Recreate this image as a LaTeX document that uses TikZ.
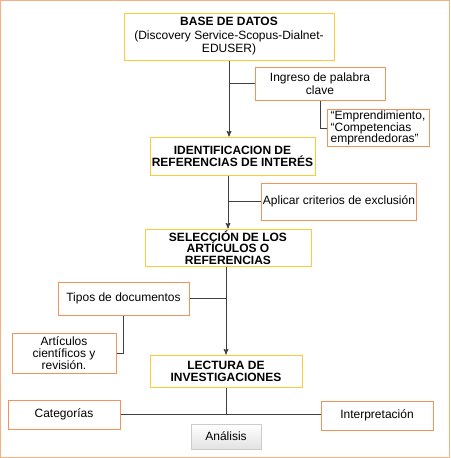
\documentclass[tikz,border=0pt]{standalone}
\usepackage{fontspec}
\setmainfont{Liberation Sans}
\usetikzlibrary{arrows,shadows}

\definecolor{boxyellow}{HTML}{FFC93C}
\definecolor{boxorange}{HTML}{F2935C}
\definecolor{frameorange}{HTML}{F4B183}
\definecolor{linegray}{HTML}{404040}

\begin{document}
\begin{tikzpicture}[>=stealth',thick,
  main box/.style={rectangle,draw=boxyellow,line width=1pt,align=center,inner sep=1pt,font=\fontsize{12}{12}\selectfont\bfseries},
  side box/.style={rectangle,draw=boxorange,line width=1pt,align=center,inner sep=1pt,font=\fontsize{12}{13}\selectfont},
  link/.style={draw=linegray,line width=1pt}]

 \useasboundingbox (0,0) rectangle (450pt,-458pt);
 \draw[frameorange,line width=1.2pt] (0.6pt,-0.6pt) rectangle (449.4pt,-457.4pt);

 \node[main box,minimum width=210pt,minimum height=47pt,font=\fontsize{12}{13.5}\selectfont] (base) at (229pt,-36.5pt)
   {\textbf{BASE DE DATOS}\\(Discovery Service-Scopus-Dialnet-\\EDUSER)};
 \node[main box,minimum width=165pt,minimum height=38pt] (ident) [below of=base,node distance=119.5pt,xshift=3.5pt]
   {IDENTIFICACION DE\\REFERENCIAS DE INTERÉS};
 \node[main box,minimum width=166pt,minimum height=37pt,font=\fontsize{12}{11.5}\selectfont\bfseries] (selec) [below of=ident,node distance=91.5pt,xshift=-4.5pt]
   {SELECCIÓN DE LOS\\ARTÍCULOS O\\REFERENCIAS};
 \node[main box,minimum width=152pt,minimum height=32pt] (lectura) [below of=selec,node distance=123.5pt,xshift=-2pt]
   {LECTURA DE\\INVESTIGACIONES};
 \node[rectangle,draw=gray!40,minimum width=70pt,minimum height=25pt,top color=white,bottom color=gray!22,
   drop shadow={opacity=0.35,shadow xshift=0.8pt,shadow yshift=-1.2pt},font=\fontsize{12}{12}\selectfont] (analisis)
   [below of=lectura,node distance=65.5pt] {Análisis};

 \node[side box,minimum width=130pt,minimum height=33pt] (ingreso) [right of=base,node distance=91pt,yshift=-47pt]
   {Ingreso de palabra\\clave};
 \node[side box,minimum width=102pt,minimum height=36pt,align=left,font=\fontsize{12}{11.7}\selectfont] (empr) [below of=ingreso,node distance=44.5pt,xshift=58pt]
   {``Emprendimiento,\\``Competencias\\emprendedoras''};
 \node[side box,minimum width=154pt,minimum height=37pt] (aplicar) [right of=ident,node distance=106.5pt,yshift=-45.5pt]
   {Aplicar criterios de exclusión};
 \node[side box,minimum width=131pt,minimum height=33pt] (tipos) [left of=selec,node distance=104.5pt,yshift=-51pt]
   {Tipos de documentos};
 \node[side box,minimum width=104pt,minimum height=40pt,font=\fontsize{12}{12.3}\selectfont] (artic) [below of=tipos,node distance=54.5pt,xshift=-59.5pt]
   {Artículos\\científicos y\\revisión.};
 \node[side box,minimum width=112pt,minimum height=29pt] (categ) [left of=lectura,node distance=162pt,yshift=-43.5pt]
   {Categorías};
 \node[side box,minimum width=112pt,minimum height=29pt] (interp) [right of=lectura,node distance=151pt,yshift=-44.5pt]
   {Interpretación};

 % main flow
 \draw[link,->] (base.south) -- (base.south |- ident.north);
 \draw[link,->] (ident.south -| selec.north) -- (selec.north);
 \draw[link,->] (selec.south -| lectura.north) -- (lectura.north);
 \draw[link] (lectura.south) -- (lectura.south |- categ.east);

 % side branches
 \draw[link] (ingreso.west) -- (ingreso.west -| base.south);
 \draw[link] (ingreso.south) |- (empr.west);
 \draw[link] (aplicar.west) -- (aplicar.west -| selec.north);
 \draw[link] (tipos.east) -- (tipos.east -| lectura.north);
 \draw[link] (tipos.south) |- (artic.east);
 \draw[link] (categ.east) -- (categ.east -| interp.west);

\end{tikzpicture}
\end{document}
